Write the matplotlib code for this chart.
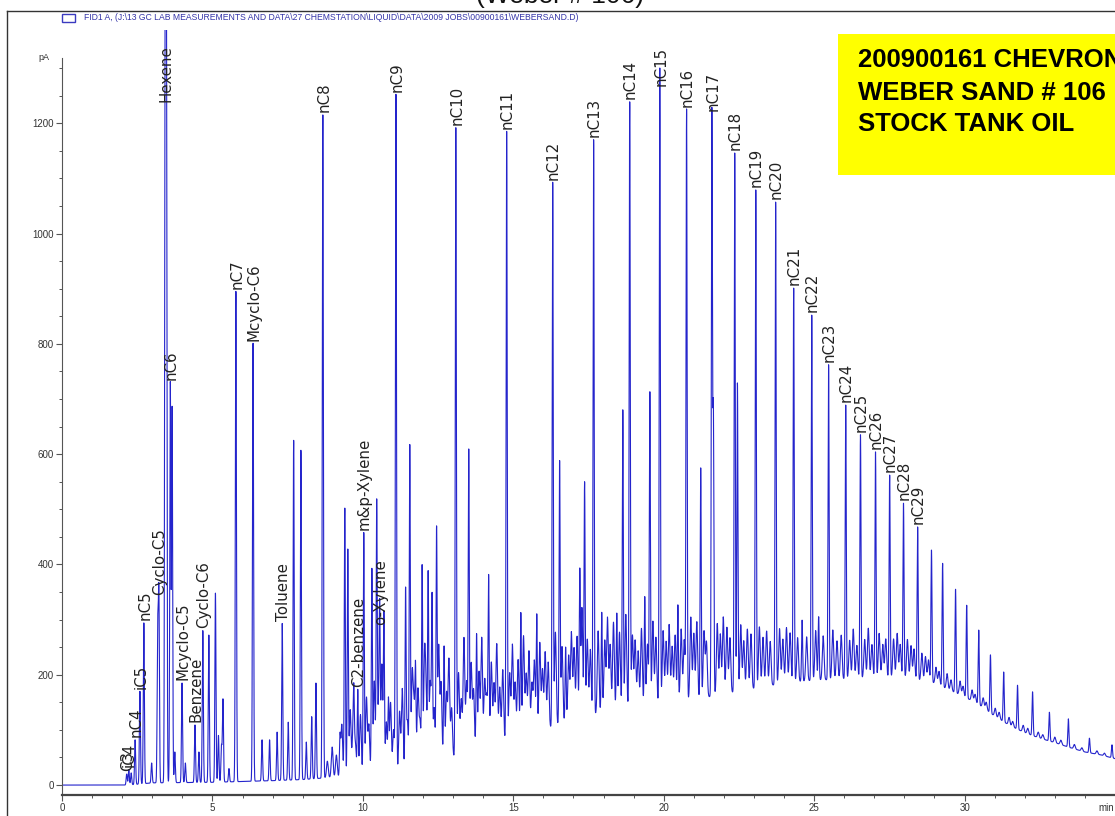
import numpy as np
import matplotlib.pyplot as plt
from matplotlib.patches import Rectangle
from matplotlib.lines import Line2D
from matplotlib.ticker import FixedLocator

# ----------------------------
# Chromatogram data
# ----------------------------
# lower edge of the unresolved hump [min, pA]
base_t = [0.0, 2.2, 3.0, 5.0, 7.0, 8.0, 9.0, 10.0, 11.0, 12.0, 13.0, 14.0, 15.0,
          16.0, 17.0, 18.0, 19.0, 20.0, 21.0, 22.0, 23.0, 24.0, 25.0, 26.0, 27.0,
          28.0, 29.0, 29.5, 30.0, 30.5, 31.0, 31.5, 32.0, 32.5, 33.0, 33.5, 34.0,
          34.5, 35.0]
base_pA = [0, 0, 4, 5, 8, 10, 14, 18, 20, 35, 50, 68, 85,
           100, 118, 132, 142, 150, 155, 165, 175, 185, 190, 192, 195,
           195, 185, 172, 160, 145, 125, 108, 95, 85, 77, 68, 60,
           55, 48]

# named peaks: label, retention time [min], peak top [pA]
names = ["C3", "iC4", "nC4", "iC5", "nC5", "Cyclo-C5", "Hexene", "nC6",
         "Mcyclo-C5", "Benzene", "Cyclo-C6", "nC7", "Mcyclo-C6", "Toluene",
         "nC8", "C2-benzene", "m&p-Xylene", "o-Xylene", "nC9", "nC10", "nC11",
         "nC12", "nC13", "nC14", "nC15", "nC16", "nC17", "nC18", "nC19", "nC20",
         "nC21", "nC22", "nC23", "nC24", "nC25", "nC26", "nC27", "nC28", "nC29"]
name_t = [2.15, 2.22, 2.43, 2.59, 2.72, 3.22, 3.43, 3.60,
          3.99, 4.42, 4.68, 5.78, 6.35, 7.32,
          8.67, 9.83, 10.03, 10.56, 11.10, 13.09, 14.78,
          16.31, 17.67, 18.87, 19.87, 20.76, 21.60, 22.36, 23.06, 23.72,
          24.32, 24.92, 25.48, 26.05, 26.54, 27.04, 27.51, 27.97, 28.44]
name_pA = [20, 28, 82, 170, 294, 340, 1390, 729,
           185, 109, 280, 895, 801, 293,
           1215, 172, 457, 285, 1251, 1191, 1185,
           1092, 1170, 1238, 1300, 1224, 1218, 1146, 1079, 1057,
           901, 852, 762, 689, 635, 604, 562, 511, 468]

# other resolved peaks: retention time [min], peak top [pA]
other_t = [2.30, 2.98, 3.18, 3.47, 3.66, 3.75, 4.10, 4.55, 4.88, 5.10, 5.20,
           5.30, 5.35, 5.55, 6.65, 6.90, 7.15, 7.52, 7.70, 7.94, 8.12, 8.30,
           8.44, 9.24, 9.40, 9.50, 9.70, 10.30, 10.46, 10.70, 10.85, 11.42,
           11.56, 11.75, 11.97, 12.17, 12.30, 12.45, 12.70, 13.52, 13.78,
           14.18, 15.25, 15.78, 16.54, 16.74, 17.21, 17.37, 17.94, 18.44,
           18.64, 19.37, 19.54, 20.47, 21.23, 21.65, 22.45, 24.60, 25.15,
           28.90, 29.27, 29.70, 30.07, 30.47, 30.86, 31.30, 31.76, 32.26,
           32.82, 33.45, 34.15, 34.90]
other_pA = [22, 40, 270, 1390, 684, 60, 40, 60, 272, 348, 90,
            70, 155, 30, 82, 82, 96, 114, 625, 607, 78, 124,
            185, 85, 502, 426, 130, 390, 504, 305, 150, 350,
            613, 200, 393, 377, 330, 459, 250, 601, 272,
            372, 311, 308, 586, 250, 384, 548, 313, 311,
            680, 341, 711, 326, 575, 675, 729, 299, 305,
            426, 402, 355, 326, 281, 236, 205, 181, 169,
            132, 120, 85, 73]

# small peaks riding on the hump: retention time [min], height above hump [pA]
minor_t = [8.82, 8.98, 9.12, 9.30, 9.58, 9.67, 9.75, 9.92, 10.12, 10.20, 10.38,
           10.52, 10.63, 10.78, 10.92, 11.02, 11.22, 11.31, 11.48, 11.64, 11.70,
           11.83, 11.90, 12.05, 12.10, 12.24, 12.37, 12.52, 12.60, 12.78, 12.86,
           12.95, 13.18, 13.27, 13.36, 13.45, 13.60, 13.68, 13.86, 13.95, 14.05,
           14.12, 14.27, 14.36, 14.45, 14.55, 14.65, 14.88, 14.97, 15.06, 15.16,
           15.34, 15.43, 15.52, 15.62, 15.70, 15.88, 15.97, 16.06, 16.16, 16.40,
           16.62, 16.84, 16.93, 17.02, 17.12, 17.28, 17.46, 17.56, 17.82, 18.04,
           18.13, 18.22, 18.33, 18.53, 18.74, 18.96, 19.05, 19.15, 19.26, 19.46,
           19.64, 19.74, 19.98, 20.08, 20.18, 20.28, 20.38, 20.58, 20.68, 20.90,
           21.00, 21.10, 21.34, 21.42, 21.78, 21.88, 21.98, 22.10, 22.20, 22.56,
           22.66, 22.78, 22.90, 23.18, 23.30, 23.42, 23.54, 23.85, 23.96, 24.08,
           24.20, 24.45, 24.75, 25.05, 25.30, 25.62, 25.76, 25.90, 26.18, 26.30,
           26.42, 26.68, 26.80, 26.92, 27.16, 27.28, 27.38, 27.64, 27.76, 27.86,
           28.10, 28.22, 28.32, 28.58, 28.70, 28.80, 29.05, 29.15, 29.42, 29.55,
           29.85, 29.95, 30.25, 30.35, 30.62, 30.72, 31.02, 31.15, 31.48, 31.60,
           31.95, 32.10, 32.45, 32.60, 33.00, 33.20, 33.65, 33.90, 34.40, 34.65]
minor_h = [30, 55, 40, 95, 120, 75, 60, 110, 140, 90, 170,
           120, 200, 95, 130, 80, 110, 150, 90, 170, 110,
           140, 80, 190, 120, 150, 100, 210, 140, 120, 180,
           90, 150, 100, 210, 130, 160, 110, 140, 200, 120,
           90, 150, 110, 180, 100, 130, 120, 170, 100, 140,
           180, 110, 150, 90, 130, 160, 110, 140, 120, 170,
           140, 120, 160, 130, 150, 200, 140, 120, 150, 130,
           170, 120, 160, 140, 170, 130, 120, 100, 140, 110,
           150, 120, 130, 110, 140, 100, 120, 130, 110, 150,
           120, 140, 120, 100, 130, 110, 140, 120, 100, 120,
           90, 110, 100, 110, 90, 100, 80, 100, 80, 100,
           90, 80, 80, 90, 80, 90, 70, 80, 70, 90,
           60, 70, 90, 60, 80, 60, 70, 70, 80, 60,
           70, 60, 55, 50, 45, 40, 30, 25, 28, 20,
           25, 18, 20, 15, 18, 14, 15, 12, 14, 10,
           12, 10, 10, 8, 10, 8, 8, 6, 6, 5]

# ----------------------------
# Build the detector trace
# ----------------------------
t = np.linspace(0, 35, 14001)
hump = np.interp(t, base_t, base_pA)
signal = hump.copy()

def add_peaks(times, tops, sigma, relative=False):
    global signal
    for tp, hp in zip(times, tops):
        amp = hp if relative else hp - np.interp(tp, base_t, base_pA)
        signal = signal + amp * np.exp(-0.5 * ((t - tp) / sigma) ** 2)

add_peaks(name_t, name_pA, 0.018)
add_peaks(other_t, other_pA, 0.018)
add_peaks(minor_t, minor_h, 0.028, relative=True)

# ----------------------------
# Figure
# ----------------------------
W, H = 1115, 816
fig = plt.figure(figsize=(W / 100, H / 100), dpi=100)
ax = fig.add_axes([62 / W, 1 - 795 / H, 1 - 62 / W, 765 / H])

ax.plot(t, signal, color="#2424cc", lw=0.8)
ax.set_xlim(0, 35)
ax.set_ylim(-18, 1369)

label_base = {"Hexene": 1233, "nC15": 1262}
for name, tp, hp in zip(names, name_t, name_pA):
    yb = label_base.get(name, hp)
    ax.annotate(name, (tp, yb), xytext=(0.6, 2), textcoords="offset points",
                rotation=90, ha="center", va="bottom", fontsize=10.8,
                family="DejaVu Sans", color="#222222", zorder=4)

for s in ["top", "right"]:
    ax.spines[s].set_visible(False)
ax.spines["left"].set_bounds(-18, 1318)
ax.spines["left"].set_color("#555555")
ax.spines["bottom"].set_color("#444444")
ax.spines["bottom"].set_linewidth(1.6)

ax.set_yticks(range(0, 1201, 200))
ax.yaxis.set_minor_locator(FixedLocator(np.arange(0, 1301, 50)))
ax.set_xticks(range(0, 31, 5))
ax.xaxis.set_minor_locator(FixedLocator(np.arange(0, 35, 1)))
ax.tick_params(which="both", direction="out", colors="#555555",
               labelcolor="#333333", labelsize=7, pad=2)
ax.tick_params(which="major", length=4, width=0.8)
ax.tick_params(which="minor", length=2.5, width=0.7)
for lab in ax.get_xticklabels() + ax.get_yticklabels():
    lab.set_family("Liberation Sans")

fig.text(38 / W, 1 - 58 / H, "pA", fontsize=6.5, color="#333333",
         family="Liberation Sans", va="center")
fig.text(1098 / W, 1 - 808 / H, "min", fontsize=7, color="#333333",
         family="Liberation Sans", va="center")

# outer frame
fig.add_artist(Line2D([7 / W, 7 / W], [0, 1 - 11 / H], transform=fig.transFigure,
                      color="#333333", lw=1))
fig.add_artist(Line2D([7 / W, 1], [1 - 11 / H, 1 - 11 / H], transform=fig.transFigure,
                      color="#333333", lw=1))

# signal legend
fig.add_artist(Rectangle((62 / W, 1 - 22 / H), 13 / W, 8 / H, fill=False,
                         ec="#3a3ac0", lw=1, transform=fig.transFigure))
fig.text(84 / W, 1 - 17.5 / H,
         r"FID1 A, (J:\13 GC LAB MEASUREMENTS AND DATA\27 CHEMSTATION\LIQUID\DATA\2009 JOBS\00900161\WEBERSAND.D)",
         fontsize=6.2, color="#3535a8", family="Liberation Sans", va="center")

# title (cut off at the top)
fig.text(560 / W, 1 - 3 / H, "(Weber # 106)", fontsize=19, ha="center",
         va="baseline", family="Liberation Sans", color="#111111")

# yellow sample box
fig.add_artist(Rectangle((838 / W, 1 - 175 / H), 0.3, 141 / H, fc="#ffff00",
                         ec="none", transform=fig.transFigure, zorder=5))
for line, yb in zip(["200900161 CHEVRON", "WEBER SAND # 106", "STOCK TANK OIL"],
                    [67, 99.5, 131]):
    fig.text(858 / W, 1 - yb / H, line, fontsize=18.5, weight="bold",
             family="Liberation Sans", va="baseline", color="black", zorder=6)

fig.savefig("out.png", dpi=100)
